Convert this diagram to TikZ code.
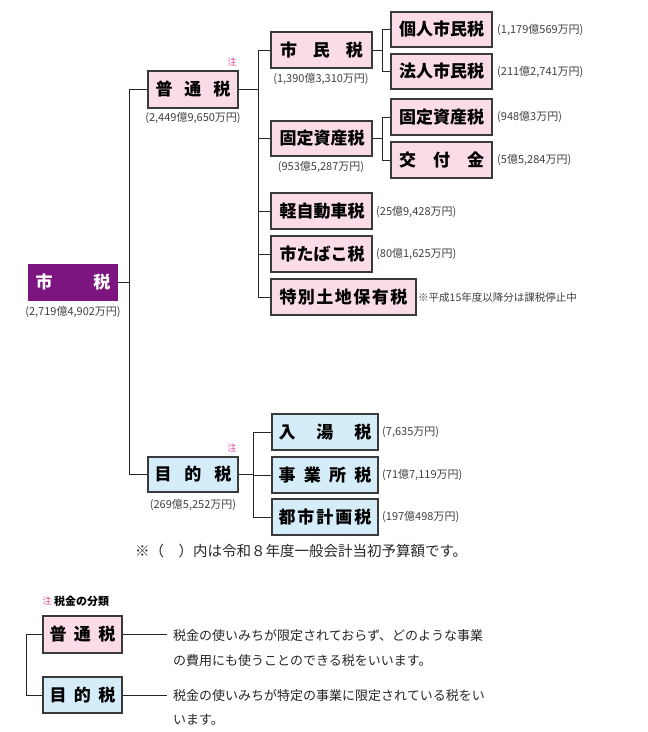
\documentclass[tikz,border=0pt]{standalone}
\usepackage{fontspec}
\setmainfont{Noto Sans CJK JP}
\definecolor{pinkfill}{HTML}{FADCE9}
\definecolor{bluefill}{HTML}{D5ECF9}
\definecolor{purp}{HTML}{7C1580}
\definecolor{bordr}{HTML}{3A3A3A}
\definecolor{notec}{HTML}{E0448F}
\newcommand\sprd[2]{\makebox[#1][s]{#2}}
\tikzset{
  taxbox/.style={draw=bordr, line width=1.3pt, inner sep=0pt, font=\fontsize{17}{17}\selectfont\bfseries, text=black},
  pk/.style={taxbox, fill=pinkfill},
  bl/.style={taxbox, fill=bluefill},
  amt/.style={font=\fontsize{11}{11}\selectfont, text=black!75, inner sep=0pt},
  chu/.style={font=\fontsize{9}{9}\selectfont, text=notec, inner sep=0pt},
  conn/.style={draw=black!85, line width=0.9pt},
  desc/.style={font=\fontsize{13}{13}\selectfont, text=black!85, inner sep=0pt, anchor=west}
}
\begin{document}
\begin{tikzpicture}[x=1pt,y=-1pt]
\useasboundingbox (0,0) rectangle (648,732);
% main boxes
\node[draw=none, fill=purp, minimum width=90pt, minimum height=37pt, inner sep=0pt, text=white, font=\fontsize{17}{17}\selectfont\bfseries] (shizei) at (73,282.5) {\sprd{75pt}{市\hfill 税}};
\node[pk, minimum width=90pt, minimum height=37pt] (futsu) at (193,89.5) {\sprd{75pt}{普\hfill 通\hfill 税}};
\node[bl, minimum width=90pt, minimum height=35pt] (mokuteki) at (193,474.5) {\sprd{77pt}{目\hfill 的\hfill 税}};
% futsu children
\node[pk, minimum width=101pt, minimum height=36pt] (shimin) at (321.5,50) {\sprd{83pt}{市\hfill 民\hfill 税}};
\node[pk, minimum width=101pt, minimum height=35pt] (kotei) at (321.5,138.5) {\sprd{84pt}{固\hfill 定\hfill 資\hfill 産\hfill 税}};
\node[pk, minimum width=101pt, minimum height=36pt] (kei) at (321.5,211) {\sprd{84pt}{軽\hfill 自\hfill 動\hfill 車\hfill 税}};
\node[pk, minimum width=101pt, minimum height=36pt] (tabako) at (321.5,254) {\sprd{84pt}{市\hfill た\hfill ば\hfill こ\hfill 税}};
\node[pk, minimum width=145pt, minimum height=36pt] (tokubetsu) at (343.5,297) {\sprd{128pt}{特\hfill 別\hfill 土\hfill 地\hfill 保\hfill 有\hfill 税}};
% grandchildren
\node[pk, minimum width=101pt, minimum height=35pt] (kojin) at (441.5,29.5) {\sprd{85pt}{個\hfill 人\hfill 市\hfill 民\hfill 税}};
\node[pk, minimum width=101pt, minimum height=35pt] (hojin) at (441.5,71.5) {\sprd{85pt}{法\hfill 人\hfill 市\hfill 民\hfill 税}};
\node[pk, minimum width=101pt, minimum height=36pt] (kotei2) at (441.5,117) {\sprd{85pt}{固\hfill 定\hfill 資\hfill 産\hfill 税}};
\node[pk, minimum width=101pt, minimum height=36pt] (kofu) at (441.5,160) {\sprd{85pt}{交\hfill 付\hfill 金}};
% mokuteki children
\node[bl, minimum width=106pt, minimum height=36pt] (nyuto) at (325,432) {\sprd{93pt}{入\hfill 湯\hfill 税}};
\node[bl, minimum width=106pt, minimum height=36pt] (jigyo) at (325,475) {\sprd{93pt}{事\hfill 業\hfill 所\hfill 税}};
\node[bl, minimum width=106pt, minimum height=36pt] (toshi) at (325,517) {\sprd{93pt}{都\hfill 市\hfill 計\hfill 画\hfill 税}};
% connectors
\coordinate (t1) at (129,0);
\coordinate (t2) at (258,0);
\coordinate (t3) at (382,0);
\coordinate (t4) at (253,0);
\draw[conn] (shizei.east) -- (shizei.east -| t1);
\draw[conn] (futsu.west) -- (futsu.west -| t1) -- (mokuteki.west -| t1) -- (mokuteki.west);
\draw[conn] (futsu.east) -- (futsu.east -| t2);
\draw[conn] (shimin.west) -- (shimin.west -| t2) -- (tokubetsu.west -| t2) -- (tokubetsu.west);
\draw[conn] (kotei.west) -- (kotei.west -| t2);
\draw[conn] (kei.west) -- (kei.west -| t2);
\draw[conn] (tabako.west) -- (tabako.west -| t2);
\draw[conn] (shimin.east) -- (shimin.east -| t3);
\draw[conn] (kojin.west) -- (kojin.west -| t3) -- (hojin.west -| t3) -- (hojin.west);
\draw[conn] (kotei.east) -- (kotei.east -| t3);
\draw[conn] (kotei2.west) -- (kotei2.west -| t3) -- (kofu.west -| t3) -- (kofu.west);
\draw[conn] (mokuteki.east) -- (mokuteki.east -| t4);
\draw[conn] (nyuto.west) -- (nyuto.west -| t4) -- (toshi.west -| t4) -- (toshi.west);
\draw[conn] (jigyo.west) -- (jigyo.west -| t4);
% amounts
\node[amt] (a0) at (73,312) {(2,719億4,902万円)};
\node[amt] (a1) at (193,118) {(2,449億9,650万円)};
\node[amt] (a2) at (321,79) {(1,390億3,310万円)};
\node[amt] (a3) at (321,166.5) {(953億5,287万円)};
\node[amt] (a4) at (193,505) {(269億5,252万円)};
\node[amt, anchor=west] (a5) at (497,30) {(1,179億569万円)};
\node[amt, anchor=west] (a6) at (497,72) {(211億2,741万円)};
\node[amt, anchor=west] (a7) at (497,117) {(948億3万円)};
\node[amt, anchor=west] (a8) at (497,160) {(5億5,284万円)};
\node[amt, anchor=west] (a9) at (376,212) {(25億9,428万円)};
\node[amt, anchor=west] (a10) at (376,254) {(80億1,625万円)};
\node[amt, anchor=west, font=\fontsize{10.5}{11}\selectfont] (a11) at (418,298) {※平成15年度以降分は課税停止中};
\node[amt, anchor=west] (a12) at (382,432) {(7,635万円)};
\node[amt, anchor=west] (a13) at (382,475) {(71億7,119万円)};
\node[amt, anchor=west] (a14) at (382,517) {(197億498万円)};
\node[chu] (c1) at (232,62) {注};
\node[chu] (c2) at (232,448) {注};
\node[anchor=west, inner sep=0pt, font=\fontsize{14.5}{14.5}\selectfont, text=black!85] (foot) at (135,551) {※（\hspace{1em}）内は令和８年度一般会計当初予算額です。};
% legend
\node[chu] (c3) at (47,601) {注};
\node[anchor=west, inner sep=0pt, font=\fontsize{11}{11}\selectfont\bfseries] (bunrui) at (54,601) {税金の分類};
\node[pk, minimum width=79pt, minimum height=37pt] (bfutsu) at (82.5,634.5) {\sprd{66pt}{普\hfill 通\hfill 税}};
\node[bl, minimum width=79pt, minimum height=36pt] (bmoku) at (82.5,695) {\sprd{66pt}{目\hfill 的\hfill 税}};
\coordinate (t5) at (26,0);
\coordinate (e1) at (167,634.5);
\coordinate (e2) at (167,695);
\draw[conn] (bfutsu.west) -- (bfutsu.west -| t5) -- (bmoku.west -| t5) -- (bmoku.west);
\draw[conn] (bfutsu.east) -- (e1);
\draw[conn] (bmoku.east) -- (e2);
\node[desc] (d1) at (173,635.5) {税金の使いみちが限定されておらず、どのような事業};
\node[desc] (d2) at (173,660.5) {の費用にも使うことのできる税をいいます。};
\node[desc] (d3) at (173,695.5) {税金の使いみちが特定の事業に限定されている税をい};
\node[desc] (d4) at (173,719.5) {います。};
\end{tikzpicture}
\end{document}
